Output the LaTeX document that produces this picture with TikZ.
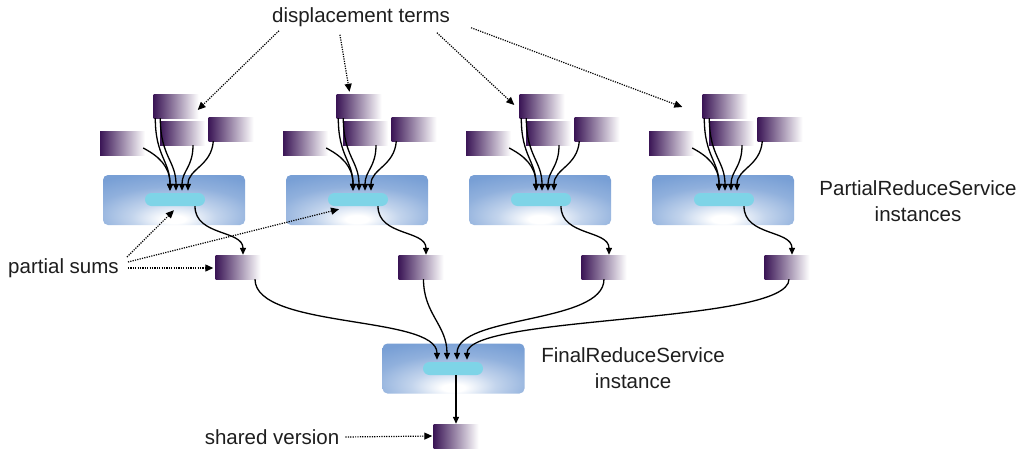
\documentclass[tikz,border=0pt]{standalone}
\usepackage{fontspec}
\setmainfont{Liberation Sans}
\usetikzlibrary{arrows.meta,calc}
\definecolor{svcblue}{HTML}{789FD5}
\colorlet{svcA}{svcblue!45!white}
\colorlet{svcB}{svcblue!82!white}
\definecolor{pillcyan}{HTML}{7ED4E7}
\definecolor{boxpurple}{HTML}{3B1656}
\definecolor{ink}{HTML}{1E1E1E}
\pgfdeclareradialshading{svcshade}{\pgfpoint{0bp}{-20bp}}{color(0bp)=(white); color(4bp)=(white); color(15bp)=(svcA); color(28bp)=(svcB); color(40bp)=(svcblue); color(100bp)=(svcblue)}
\tikzset{
  svc/.style={shade, shading=svcshade, rounded corners=5pt, minimum width=142pt, minimum height=50pt, inner sep=0pt},
  pill/.style={fill=pillcyan, rounded corners=6.5pt, minimum width=60pt, minimum height=13pt, inner sep=0pt},
  dbox/.style={left color=boxpurple, right color=white, minimum width=45pt, minimum height=24pt, inner sep=0pt},
  flow/.style={draw=black, line width=1.3pt, -{Triangle[length=7pt,width=6pt]}},
  dotarrow/.style={draw=black, line width=1.2pt, dash pattern=on 1.2pt off 1.2pt, -{Triangle[length=8pt,width=7pt]}},
  lbl/.style={font=\fontsize{20.5}{26}\selectfont, text=ink, inner sep=0pt, align=center}
}
\begin{document}
\begin{tikzpicture}[x=1pt,y=-1pt]
\useasboundingbox (0,0) rectangle (1023,450);
\fill[white] (0,0) rectangle (1023,450);

% partial reduce clusters
\foreach \i in {1,...,4}{
  \pgfmathsetmacro{\dx}{183*(\i-1)}
  \node[svc] (svc\i) at ({174+\dx},200) {};
  \node[pill] (pill\i) at ({175+\dx},199.5) {};
  \node[dbox] (top\i) at ({176+\dx},106) {};
  \node[dbox] (lft\i) at ({122.5+\dx},143) {};
  \node[dbox] (mid\i) at ({182.5+\dx},133) {};
  \node[dbox] (rgt\i) at ({231+\dx},129) {};
  \node[dbox] (part\i) at ({238+\dx},267) {};
}

% final reduce
\node[svc] (fsvc) at (453.5,368.5) {};
\node[pill] (fpill) at (453,368.5) {};
\node[dbox] (shared) at (456,436) {};

% cluster connectors
\foreach \i in {1,...,4}{
  \draw[flow] ($(lft\i.east)+(-2,5)$) .. controls +(15,8) and +(0,-25) .. ($(pill\i.north)+(-5,-2)$);
  \draw[flow] ($(top\i.south west)+(2,0)$) .. controls +(0,38) and +(0,-30) .. ($(pill\i.north)+(-5,-2)$);
  \draw[flow] ($(top\i.south west)+(7,0)$) .. controls +(0,38) and +(0,-30) .. ($(pill\i.north)+(1,-2)$);
  \draw[flow] ($(mid\i.south)+(10.5,0)$) .. controls +(0,22) and +(0,-20) .. ($(pill\i.north)+(7,-2)$);
  \draw[flow] ($(rgt\i.south west)+(5,0)$) .. controls +(-2,25) and +(0,-22) .. ($(pill\i.north)+(13,-2)$);
  \draw[flow] ($(pill\i.south)+(20,0)$) .. controls +(0,30) and +(0,-25) .. ($(part\i.north)+(5,0)$);
}

% partial sums into final reduce
\draw[flow] ($(part1.south)+(17,0)$) .. controls +(0,50) and +(0,-45) .. ($(fpill.north)+(-16,-2)$);
\draw[flow] ($(part2.south)+(2.5,0)$) .. controls +(0,35) and +(0,-35) .. ($(fpill.north)+(-6,-2)$);
\draw[flow] ($(part3.south)+(0,0)$) .. controls +(0,45) and +(0,-45) .. ($(fpill.north)+(4,-2)$);
\draw[flow] ($(part4.south)+(2,0)$) .. controls +(0,45) and +(0,-45) .. ($(fpill.north)+(14,-2)$);
\draw[flow] (fpill.south -| shared.north) -- (shared.north);

% labels
\node[lbl] (dt) at (361,17) {displacement terms};
\node[lbl] (prs) at (918,201) {PartialReduceService\\instances};
\node[lbl] (frs) at (633,368) {FinalReduceService\\instance};
\node[lbl] (ps) at (63.5,268) {partial sums};
\node[lbl] (sv) at (272,437) {shared version};

% dotted annotation arrows
\draw[dotarrow] ($(dt.south west)+(7,4)$) -- ($(top1.east)+(-1,4)$);
\draw[dotarrow] ($(dt.south west)+(68,8)$) -- ($(top2.north)+(-9.5,-2)$);
\draw[dotarrow] ($(dt.south west)+(165,6)$) -- ($(top3.west)+(-5,-1)$);
\draw[dotarrow] ($(dt.south east)+(21,1)$) -- ($(top4.west)+(-20,1)$);

\draw[dotarrow] ($(ps.east)+(8,-11)$) -- ($(pill1.south)+(-1,4)$);
\draw[dotarrow] ($(ps.east)+(9,-6)$) -- ($(pill2.south)+(-19,3)$);
\draw[dotarrow] ($(ps.east)+(9,0)$) -- ($(part1.west)+(-2,1)$);

\draw[dotarrow] ($(sv.east)+(6,0)$) -- ($(shared.west)+(-1,0)$);
\end{tikzpicture}
\end{document}
